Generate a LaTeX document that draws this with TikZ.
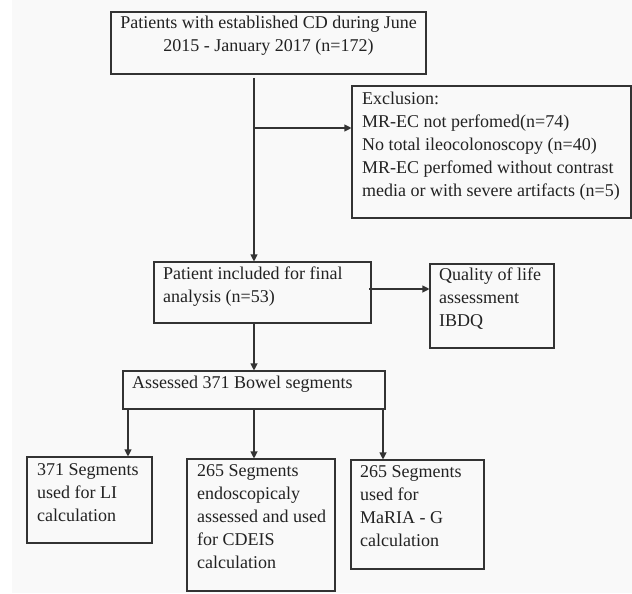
\documentclass[tikz,border=0pt]{standalone}
\usepackage{fontspec}
\setmainfont{Liberation Serif}
\usetikzlibrary{arrows.meta}
\definecolor{bg}{HTML}{F9F9F9}
\definecolor{ln}{HTML}{333333}
\definecolor{tx}{HTML}{222222}
\begin{document}
\begin{tikzpicture}[x=1pt,y=-1pt,
  box/.style={draw=ln,line width=1.1pt,inner sep=0pt},
  txt/.style={anchor=base west,align=left,inner sep=0pt,text=tx,font=\fontsize{18}{23}\selectfont},
  ctxt/.style={anchor=base,align=center,inner sep=0pt,text=tx,font=\fontsize{18}{23}\selectfont},
  arr/.style={draw=ln,line width=1.1pt,-{Triangle[length=7pt,width=7pt]}}]
\useasboundingbox (0,0) rectangle (632,594);
\fill[bg] (12,0) rectangle (632,593);
% boxes
\node[box,minimum width=315pt,minimum height=62pt] (top) at (268.5,43) {};
\node[box,minimum width=279pt,minimum height=132pt] (excl) at (491.5,152) {};
\node[box,minimum width=217pt,minimum height=61pt] (pat) at (262.5,292.5) {};
\node[box,minimum width=124pt,minimum height=84pt] (qol) at (492,306) {};
\node[box,minimum width=262pt,minimum height=38pt] (ass) at (254,390) {};
\node[box,minimum width=125pt,minimum height=86pt] (b1) at (89.5,500) {};
\node[box,minimum width=148pt,minimum height=132pt] (b2) at (261,525) {};
\node[box,minimum width=133pt,minimum height=109pt] (b3) at (417.5,514.5) {};
% texts (base anchor = baseline of the last line)
\node[ctxt] (ttop) at (268.5,52) {Patients with established CD during June\\2015 - January 2017 (n=172)};
\node[txt] (texcl) at (362,196) {Exclusion:\\MR-EC not perfomed(n=74)\\No total ileocolonoscopy (n=40)\\MR-EC perfomed without contrast\\media or with severe artifacts (n=5)};
\node[txt] (tpat) at (163,302) {Patient included for final\\analysis (n=53)};
\node[txt] (tqol) at (439,326) {Quality of life\\assessment\\IBDQ};
\node[txt] (tass) at (132,388) {Assessed 371 Bowel segments};
\node[txt] (tb1) at (37,521) {371 Segments\\used for LI\\calculation};
\node[txt] (tb2) at (197,568) {265 Segments\\endoscopicaly\\assessed and used\\for CDEIS\\calculation};
\node[txt] (tb3) at (360,546) {265 Segments\\used for\\MaRIA - G\\calculation};
% connectors
\coordinate (s1) at (254,78);
\coordinate (br) at (254,128);
\coordinate (pq) at (369,289);
\coordinate (s2) at (254,323);
\coordinate (d1) at (128,409);
\coordinate (d2) at (254,409);
\coordinate (d3) at (383,409);
\draw[arr] (s1) -- (s1 |- pat.north);
\draw[arr] (br) -- (br -| excl.west);
\draw[arr] (pq) -- (pq -| qol.west);
\draw[arr] (s2) -- (s2 |- ass.north);
\draw[arr] (d1) -- (d1 |- b1.north);
\draw[arr] (d2) -- (d2 |- b2.north);
\draw[arr] (d3) -- (d3 |- b3.north);
\end{tikzpicture}
\end{document}
